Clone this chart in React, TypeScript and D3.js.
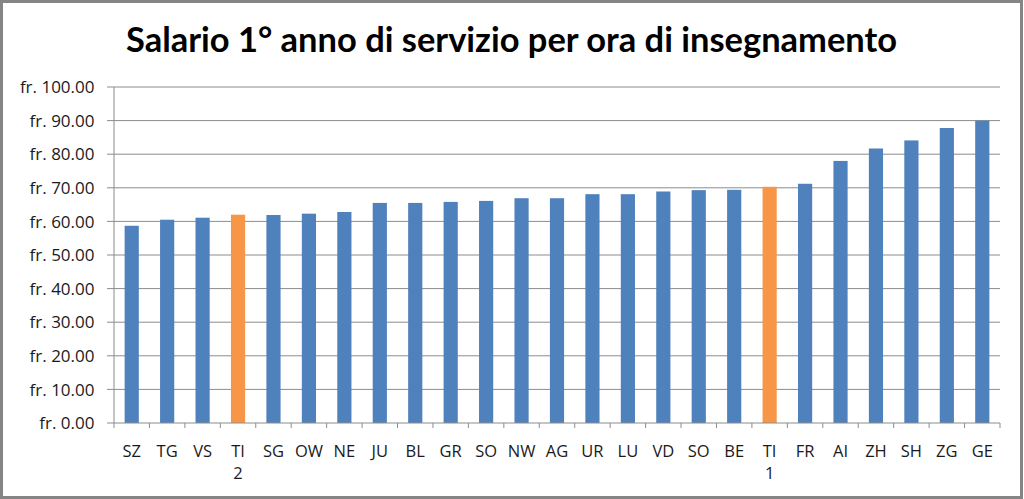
import React from "react";
import * as d3 from "d3";

const categories = ["SZ","TG","VS","TI 2","SG","OW","NE","JU","BL","GR","SO","NW","AG","UR","LU","VD","SO ","BE","TI 1","FR","AI","ZH","SH","ZG","GE"];
const values = [58.7,60.5,61.1,62.0,61.9,62.3,62.8,65.5,65.5,65.8,66.1,66.9,66.9,68.1,68.1,68.9,69.3,69.4,70.3,71.2,78.0,81.7,84.1,87.8,90.0];
const highlighted = ["TI 2","TI 1"];
const yTicks = [0,10,20,30,40,50,60,70,80,90,100];
const title = "Salario 1° anno di servizio per ora di insegnamento";

const W = 1024, H = 499;
const left = 114, right = 1000, top = 87, bottom = 423;
const BLUE = "#4F81BD", ORANGE = "#F79646", GRID = "#8c8c8c";
const FONT = "'Open Sans', Lato, sans-serif";

export default function App() {
  const x = d3.scaleBand<string>().domain(categories).range([left, right]).paddingInner(0.6).paddingOuter(0.3);
  const xb = d3.scaleBand<string>().domain(categories).range([left, right]);
  const y = d3.scaleLinear().domain([0, 100]).range([bottom, top]);
  const fmt = (v: number) => "fr. " + d3.format(".2f")(v);
  return (
    <svg width={W} height={H} style={{ position: "absolute", left: 0, top: 0, background: "#fff" }}>
      <rect x={1.5} y={1.5} width={W - 4} height={H - 3} fill="#fff" stroke="#858585" strokeWidth={3} />
      <text x={511.5} y={52} textAnchor="middle" fontFamily="Lato, 'Open Sans', sans-serif" fontWeight="bold" fontSize={35} textLength={771} lengthAdjust="spacingAndGlyphs" fill="#000">{title}</text>
      {yTicks.map(t => (
        <g key={t}>
          {t > 0 && <line x1={left} x2={right} y1={y(t)} y2={y(t)} stroke={GRID} strokeWidth={1} />}
          <line x1={left - 7} x2={left} y1={y(t)} y2={y(t)} stroke={GRID} strokeWidth={1} />
          <text x={94.5} y={y(t)} dy="0.36em" textAnchor="end" fontFamily={FONT} fontSize={17} fill="#1a1a1a">{fmt(t)}</text>
        </g>
      ))}
      {categories.map((c, i) => (
        <rect key={c} x={x(c)} y={y(values[i])} width={x.bandwidth()} height={bottom - y(values[i])} fill={highlighted.includes(c) ? ORANGE : BLUE} />
      ))}
      <line x1={left} x2={left} y1={top} y2={bottom} stroke={GRID} strokeWidth={1} />
      <line x1={left} x2={right} y1={bottom} y2={bottom} stroke={GRID} strokeWidth={1} />
      {categories.map(c => (
        <line key={"t" + c} x1={xb(c)} x2={xb(c)} y1={bottom} y2={bottom + 5} stroke={GRID} />
      ))}
      <line x1={right} x2={right} y1={bottom} y2={bottom + 5} stroke={GRID} />
      {categories.map(c => {
        const parts = c.trim().split(" ");
        const cx = (xb(c) as number) + xb.bandwidth() / 2;
        return (
          <text key={"l" + c} x={cx} y={456.5} textAnchor="middle" fontFamily={FONT} fontSize={16.5} fill="#1a1a1a">
            {parts.map((p, j) => <tspan key={j} x={cx} dy={j === 0 ? 0 : 22.5}>{p}</tspan>)}
          </text>
        );
      })}
    </svg>
  );
}
